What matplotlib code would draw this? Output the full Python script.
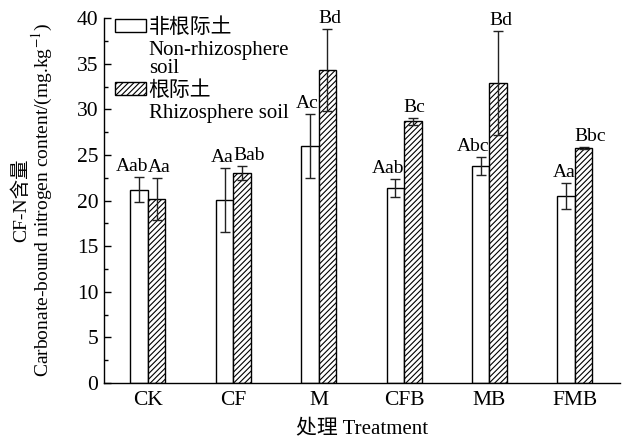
import matplotlib
matplotlib.use("Agg")
import matplotlib.pyplot as plt
import numpy as np
from matplotlib.ticker import MultipleLocator
from matplotlib.patches import Rectangle

plt.rcParams['font.family'] = ['Liberation Serif', 'Noto Sans CJK SC']
plt.rcParams['mathtext.fontset'] = 'stix'
plt.rcParams['hatch.linewidth'] = 0.8

categories = ['CK', 'CF', 'M', 'CFB', 'MB', 'FMB']
non_rhizo = [21.2, 20.1, 26.0, 21.4, 23.8, 20.5]
non_rhizo_err = [1.4, 3.5, 3.5, 1.0, 1.0, 1.4]
rhizo = [20.2, 23.0, 34.3, 28.7, 32.9, 25.8]
rhizo_err = [2.3, 0.8, 4.5, 0.4, 5.7, 0.1]
non_labels = ['Aab', 'Aa', 'Ac', 'Aab', 'Abc', 'Aa']
rhizo_labels = ['Aa', 'Bab', 'Bd', 'Bc', 'Bd', 'Bbc']

fig = plt.figure(figsize=(6.24, 4.41), dpi=100)
ax = fig.add_axes([0.1667, 0.1315, 0.8269, 0.8275])

x = np.arange(len(categories))
w = 0.205
b1 = ax.bar(x - w/2, non_rhizo, w, yerr=non_rhizo_err, color='white', edgecolor='black',
            linewidth=1.0, capsize=3.5,
            error_kw=dict(elinewidth=1.0, capthick=1.0, ecolor='#222222'))
b2 = ax.bar(x + w/2, rhizo, w, yerr=rhizo_err, color='white', edgecolor='black', hatch='//////',
            linewidth=1.0, capsize=3.5,
            error_kw=dict(elinewidth=1.0, capthick=1.0, ecolor='#222222'))

for i in range(len(categories)):
    ax.text(x[i] + 0.005, non_rhizo[i] + non_rhizo_err[i] + 0.2, non_labels[i],
            ha='right', va='bottom', fontsize=14)
    ax.text(x[i] - 0.005, rhizo[i] + rhizo_err[i] + 0.2, rhizo_labels[i],
            ha='left', va='bottom', fontsize=14)

ax.set_xlim(-0.515, 5.53)
ax.set_ylim(0, 40)
ax.set_xticks(x)
ax.set_xticklabels(categories, fontsize=15.5)
ax.tick_params(axis='x', length=0, pad=6)
ax.yaxis.set_major_locator(MultipleLocator(5))
ax.yaxis.set_minor_locator(MultipleLocator(2.5))
ax.tick_params(axis='y', which='major', direction='in', length=5, labelsize=15.5, width=1, pad=4)
ax.tick_params(axis='y', which='minor', direction='in', length=3, width=1)
for s in ['top', 'right']:
    ax.spines[s].set_visible(False)
for s in ['left', 'bottom']:
    ax.spines[s].set_linewidth(1.0)

yl = ax.set_ylabel('CF-N含量\nCarbonate-bound nitrogen content/(mg.kg$^{-1}$)', fontsize=14,
                   linespacing=0.95, labelpad=16)
ax.set_xlabel('处理 Treatment', fontsize=15, labelpad=7)

blank = Rectangle((0, 0), 1, 1, visible=False)
handles = [b1[0], blank, b2[0], blank]
labels = ['非根际土', 'Non-rhizosphere\nsoil', '根际土', 'Rhizosphere soil']
leg = ax.legend(handles, labels, loc='upper left', frameon=False, fontsize=15,
                handlelength=1.45, handleheight=0.62, handletextpad=0.15,
                borderaxespad=0.0, borderpad=0.0, labelspacing=0.15,
                bbox_to_anchor=(0.022, 1.0))
for t in leg.get_texts():
    t.set_linespacing(0.95)

fig.savefig('out.png', dpi=100)
